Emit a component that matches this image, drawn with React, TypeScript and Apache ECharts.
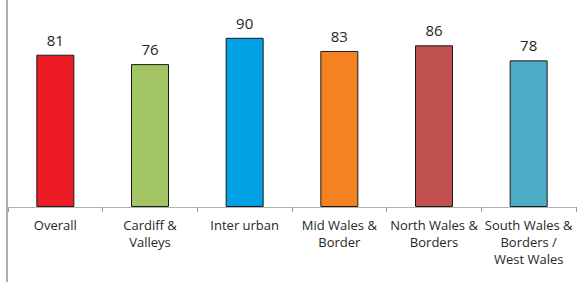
import React, { useEffect, useRef } from "react";
import * as echarts from "echarts";

const categories = [
  "Overall",
  "Cardiff &\nValleys",
  "Inter urban",
  "Mid Wales &\nBorder",
  "North Wales &\nBorders",
  "South Wales &\nBorders /\nWest Wales",
];
const values = [81, 76, 90, 83, 86, 78];
const colors = ["#ED1C24", "#A3C563", "#00A0E4", "#F58220", "#C0504D", "#4BACC6"];

export default function App() {
  const ref = useRef<HTMLDivElement>(null);
  useEffect(() => {
    const chart = echarts.init(ref.current!, null, { renderer: "svg" });
    chart.setOption({
      animation: false,
      backgroundColor: "#ffffff",
      grid: { left: 8, right: 7, top: 19, bottom: 75, containLabel: false },
      xAxis: {
        type: "category",
        data: categories,
        axisLine: { lineStyle: { color: "#B3B3B3", width: 1 } },
        axisTick: { show: true, length: 5, lineStyle: { color: "#9A9A9A" } },
        axisLabel: {
          interval: 0,
          margin: 9,
          color: "#262626",
          fontFamily: "Open Sans",
          fontSize: 13,
          lineHeight: 17,
        },
      },
      yAxis: {
        type: "value",
        min: 0,
        max: 100,
        show: false,
        splitLine: { show: false },
      },
      series: [
        {
          type: "bar",
          data: values.map((v, i) => ({ value: v, itemStyle: { color: colors[i] } })),
          barWidth: 38,
          itemStyle: { borderColor: "#1a1a1a", borderWidth: 1 },
          label: {
            show: true,
            position: "top",
            distance: 6,
            color: "#262626",
            fontFamily: "Open Sans",
            fontSize: 15,
            lineHeight: 18,
          },
        },
      ],
      graphic: [
        {
          type: "line",
          shape: { x1: 7, y1: 0, x2: 7, y2: 282 },
          style: { stroke: "#B0B0B0", lineWidth: 2 },
        },
      ],
    });
    return () => chart.dispose();
  }, []);
  return <div ref={ref} style={{ width: 583, height: 282, position: "fixed", left: 0, top: 0 }} />;
}
